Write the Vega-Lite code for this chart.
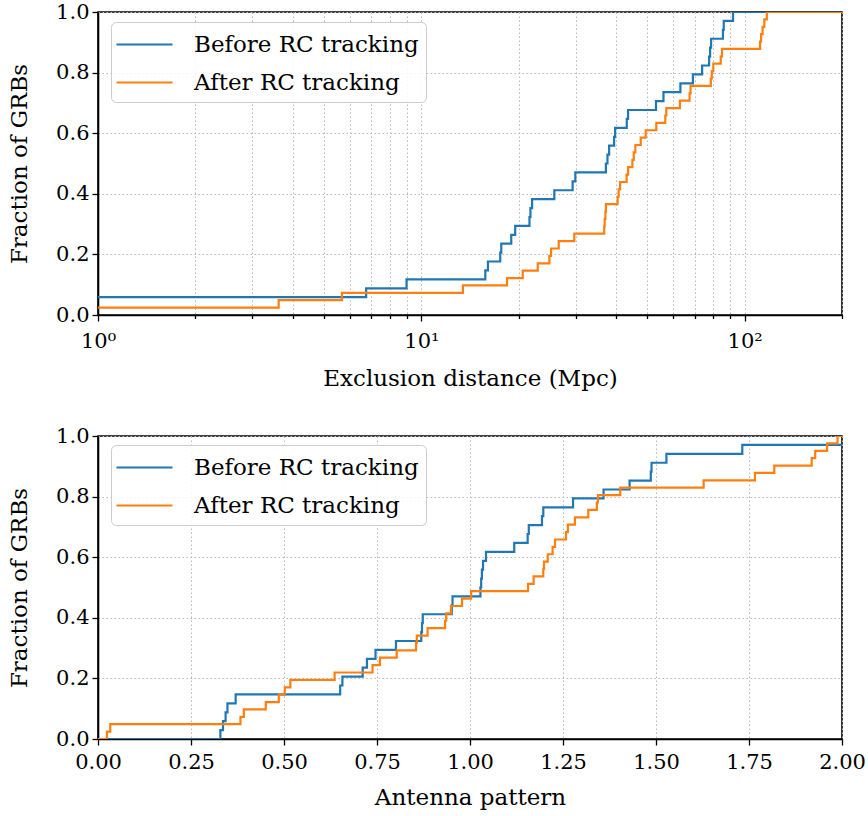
{
  "$schema": "https://vega.github.io/schema/vega-lite/v6.json",
  "background": "white",
  "padding": {"left": 7, "top": 0, "right": 20, "bottom": 5},
  "datasets": {
    "top": [
      {"series": "Before RC tracking", "x": 1, "y": 0.0588},
      {"series": "Before RC tracking", "x": 6.75, "y": 0.0882},
      {"series": "Before RC tracking", "x": 9.0, "y": 0.1176},
      {"series": "Before RC tracking", "x": 15.77, "y": 0.1471},
      {"series": "Before RC tracking", "x": 16.07, "y": 0.1765},
      {"series": "Before RC tracking", "x": 17.54, "y": 0.2059},
      {"series": "Before RC tracking", "x": 17.67, "y": 0.2353},
      {"series": "Before RC tracking", "x": 18.97, "y": 0.2647},
      {"series": "Before RC tracking", "x": 19.51, "y": 0.2941},
      {"series": "Before RC tracking", "x": 21.6, "y": 0.3235},
      {"series": "Before RC tracking", "x": 21.75, "y": 0.3529},
      {"series": "Before RC tracking", "x": 22.01, "y": 0.3824},
      {"series": "Before RC tracking", "x": 25.78, "y": 0.4118},
      {"series": "Before RC tracking", "x": 29.37, "y": 0.4412},
      {"series": "Before RC tracking", "x": 29.94, "y": 0.4706},
      {"series": "Before RC tracking", "x": 37.22, "y": 0.5},
      {"series": "Before RC tracking", "x": 37.64, "y": 0.5294},
      {"series": "Before RC tracking", "x": 38.09, "y": 0.5588},
      {"series": "Before RC tracking", "x": 39.47, "y": 0.5882},
      {"series": "Before RC tracking", "x": 39.75, "y": 0.6176},
      {"series": "Before RC tracking", "x": 43.19, "y": 0.6471},
      {"series": "Before RC tracking", "x": 43.59, "y": 0.6765},
      {"series": "Before RC tracking", "x": 53.18, "y": 0.7059},
      {"series": "Before RC tracking", "x": 56.09, "y": 0.7353},
      {"series": "Before RC tracking", "x": 63.27, "y": 0.7647},
      {"series": "Before RC tracking", "x": 69.16, "y": 0.7941},
      {"series": "Before RC tracking", "x": 73.86, "y": 0.8235},
      {"series": "Before RC tracking", "x": 77.62, "y": 0.8529},
      {"series": "Before RC tracking", "x": 78.18, "y": 0.8824},
      {"series": "Before RC tracking", "x": 78.73, "y": 0.9118},
      {"series": "Before RC tracking", "x": 85.66, "y": 0.9412},
      {"series": "Before RC tracking", "x": 86.15, "y": 0.9706},
      {"series": "Before RC tracking", "x": 92.04, "y": 1.0},
      {"series": "Before RC tracking", "x": 200, "y": 1.0},
      {"series": "After RC tracking", "x": 1, "y": 0.0244},
      {"series": "After RC tracking", "x": 3.62, "y": 0.0488},
      {"series": "After RC tracking", "x": 5.68, "y": 0.0732},
      {"series": "After RC tracking", "x": 13.45, "y": 0.0976},
      {"series": "After RC tracking", "x": 18.41, "y": 0.122},
      {"series": "After RC tracking", "x": 20.59, "y": 0.1463},
      {"series": "After RC tracking", "x": 22.91, "y": 0.1707},
      {"series": "After RC tracking", "x": 24.89, "y": 0.1951},
      {"series": "After RC tracking", "x": 25.19, "y": 0.2195},
      {"series": "After RC tracking", "x": 26.6, "y": 0.2439},
      {"series": "After RC tracking", "x": 29.72, "y": 0.2683},
      {"series": "After RC tracking", "x": 36.78, "y": 0.2927},
      {"series": "After RC tracking", "x": 36.9, "y": 0.3171},
      {"series": "After RC tracking", "x": 37.09, "y": 0.3415},
      {"series": "After RC tracking", "x": 37.22, "y": 0.3659},
      {"series": "After RC tracking", "x": 40.46, "y": 0.3902},
      {"series": "After RC tracking", "x": 40.75, "y": 0.4146},
      {"series": "After RC tracking", "x": 41.19, "y": 0.439},
      {"series": "After RC tracking", "x": 43.14, "y": 0.4634},
      {"series": "After RC tracking", "x": 43.59, "y": 0.4878},
      {"series": "After RC tracking", "x": 44.95, "y": 0.5122},
      {"series": "After RC tracking", "x": 45.39, "y": 0.5366},
      {"series": "After RC tracking", "x": 45.91, "y": 0.561},
      {"series": "After RC tracking", "x": 47.7, "y": 0.5854},
      {"series": "After RC tracking", "x": 49.43, "y": 0.6098},
      {"series": "After RC tracking", "x": 53.3, "y": 0.6341},
      {"series": "After RC tracking", "x": 56.82, "y": 0.6585},
      {"series": "After RC tracking", "x": 57.23, "y": 0.6829},
      {"series": "After RC tracking", "x": 63.05, "y": 0.7073},
      {"series": "After RC tracking", "x": 67.54, "y": 0.7317},
      {"series": "After RC tracking", "x": 68.03, "y": 0.7561},
      {"series": "After RC tracking", "x": 78.57, "y": 0.7805},
      {"series": "After RC tracking", "x": 79.13, "y": 0.8049},
      {"series": "After RC tracking", "x": 79.97, "y": 0.8293},
      {"series": "After RC tracking", "x": 84.33, "y": 0.8537},
      {"series": "After RC tracking", "x": 85.11, "y": 0.878},
      {"series": "After RC tracking", "x": 111.6, "y": 0.9024},
      {"series": "After RC tracking", "x": 112.4, "y": 0.9268},
      {"series": "After RC tracking", "x": 113.6, "y": 0.9512},
      {"series": "After RC tracking", "x": 115.0, "y": 0.9756},
      {"series": "After RC tracking", "x": 117.1, "y": 1.0},
      {"series": "After RC tracking", "x": 200, "y": 1.0}
    ],
    "bottom": [
      {"series": "Before RC tracking", "x": 0, "y": 0},
      {"series": "Before RC tracking", "x": 0.329, "y": 0.0294},
      {"series": "Before RC tracking", "x": 0.336, "y": 0.0588},
      {"series": "Before RC tracking", "x": 0.343, "y": 0.0882},
      {"series": "Before RC tracking", "x": 0.348, "y": 0.1176},
      {"series": "Before RC tracking", "x": 0.37, "y": 0.1471},
      {"series": "Before RC tracking", "x": 0.651, "y": 0.1765},
      {"series": "Before RC tracking", "x": 0.657, "y": 0.2059},
      {"series": "Before RC tracking", "x": 0.7115, "y": 0.2353},
      {"series": "Before RC tracking", "x": 0.723, "y": 0.2647},
      {"series": "Before RC tracking", "x": 0.746, "y": 0.2941},
      {"series": "Before RC tracking", "x": 0.801, "y": 0.3235},
      {"series": "Before RC tracking", "x": 0.869, "y": 0.3529},
      {"series": "Before RC tracking", "x": 0.871, "y": 0.3824},
      {"series": "Before RC tracking", "x": 0.873, "y": 0.4118},
      {"series": "Before RC tracking", "x": 0.951, "y": 0.4412},
      {"series": "Before RC tracking", "x": 0.953, "y": 0.4706},
      {"series": "Before RC tracking", "x": 1.028, "y": 0.5},
      {"series": "Before RC tracking", "x": 1.03, "y": 0.5294},
      {"series": "Before RC tracking", "x": 1.032, "y": 0.5588},
      {"series": "Before RC tracking", "x": 1.035, "y": 0.5882},
      {"series": "Before RC tracking", "x": 1.043, "y": 0.6176},
      {"series": "Before RC tracking", "x": 1.119, "y": 0.6471},
      {"series": "Before RC tracking", "x": 1.155, "y": 0.6765},
      {"series": "Before RC tracking", "x": 1.158, "y": 0.7059},
      {"series": "Before RC tracking", "x": 1.1935, "y": 0.7353},
      {"series": "Before RC tracking", "x": 1.197, "y": 0.7647},
      {"series": "Before RC tracking", "x": 1.277, "y": 0.7941},
      {"series": "Before RC tracking", "x": 1.359, "y": 0.8235},
      {"series": "Before RC tracking", "x": 1.429, "y": 0.8529},
      {"series": "Before RC tracking", "x": 1.486, "y": 0.8824},
      {"series": "Before RC tracking", "x": 1.488, "y": 0.9118},
      {"series": "Before RC tracking", "x": 1.528, "y": 0.9412},
      {"series": "Before RC tracking", "x": 1.732, "y": 0.9706},
      {"series": "Before RC tracking", "x": 2.0, "y": 0.9706},
      {"series": "After RC tracking", "x": 0, "y": 0},
      {"series": "After RC tracking", "x": 0.024, "y": 0.0244},
      {"series": "After RC tracking", "x": 0.033, "y": 0.0488},
      {"series": "After RC tracking", "x": 0.383, "y": 0.0732},
      {"series": "After RC tracking", "x": 0.392, "y": 0.0976},
      {"series": "After RC tracking", "x": 0.451, "y": 0.122},
      {"series": "After RC tracking", "x": 0.486, "y": 0.1463},
      {"series": "After RC tracking", "x": 0.502, "y": 0.1707},
      {"series": "After RC tracking", "x": 0.517, "y": 0.1951},
      {"series": "After RC tracking", "x": 0.636, "y": 0.2195},
      {"series": "After RC tracking", "x": 0.738, "y": 0.2439},
      {"series": "After RC tracking", "x": 0.758, "y": 0.2683},
      {"series": "After RC tracking", "x": 0.803, "y": 0.2927},
      {"series": "After RC tracking", "x": 0.855, "y": 0.3171},
      {"series": "After RC tracking", "x": 0.857, "y": 0.3415},
      {"series": "After RC tracking", "x": 0.886, "y": 0.3659},
      {"series": "After RC tracking", "x": 0.933, "y": 0.3902},
      {"series": "After RC tracking", "x": 0.936, "y": 0.4146},
      {"series": "After RC tracking", "x": 0.949, "y": 0.439},
      {"series": "After RC tracking", "x": 0.9785, "y": 0.4634},
      {"series": "After RC tracking", "x": 1.003, "y": 0.4878},
      {"series": "After RC tracking", "x": 1.156, "y": 0.5122},
      {"series": "After RC tracking", "x": 1.171, "y": 0.5366},
      {"series": "After RC tracking", "x": 1.197, "y": 0.561},
      {"series": "After RC tracking", "x": 1.199, "y": 0.5854},
      {"series": "After RC tracking", "x": 1.209, "y": 0.6098},
      {"series": "After RC tracking", "x": 1.222, "y": 0.6341},
      {"series": "After RC tracking", "x": 1.2285, "y": 0.6585},
      {"series": "After RC tracking", "x": 1.258, "y": 0.6829},
      {"series": "After RC tracking", "x": 1.263, "y": 0.7073},
      {"series": "After RC tracking", "x": 1.282, "y": 0.7317},
      {"series": "After RC tracking", "x": 1.318, "y": 0.7561},
      {"series": "After RC tracking", "x": 1.341, "y": 0.7805},
      {"series": "After RC tracking", "x": 1.344, "y": 0.8049},
      {"series": "After RC tracking", "x": 1.404, "y": 0.8293},
      {"series": "After RC tracking", "x": 1.628, "y": 0.8537},
      {"series": "After RC tracking", "x": 1.766, "y": 0.878},
      {"series": "After RC tracking", "x": 1.818, "y": 0.9024},
      {"series": "After RC tracking", "x": 1.9185, "y": 0.9268},
      {"series": "After RC tracking", "x": 1.928, "y": 0.9512},
      {"series": "After RC tracking", "x": 1.96, "y": 0.9756},
      {"series": "After RC tracking", "x": 1.988, "y": 1.0},
      {"series": "After RC tracking", "x": 2.0, "y": 1.0}
    ]
  },
  "spacing": 121,
  "bounds": "flush",
  "resolve": {
    "scale": {"x": "independent", "y": "independent", "color": "independent"},
    "legend": {"color": "independent"}
  },
  "vconcat": [
    {
      "width": 744,
      "height": 303,
      "data": {"name": "top"},
      "encoding": {
        "x": {
          "field": "x", "type": "quantitative",
          "scale": {"type": "log", "domain": [1, 200], "nice": false},
          "axis": {
            "title": "Exclusion distance (Mpc)",
            "values": [1, 2, 3, 4, 5, 6, 7, 8, 9, 10, 20, 30, 40, 50, 60, 70, 80, 90, 100, 200],
            "labelExpr": "datum.value == 1 ? '10⁰' : datum.value == 10 ? '10¹' : datum.value == 100 ? '10²' : ''",
            "labelOverlap": false,
            "labelPadding": 9,
            "titlePadding": 16,
            "tickSize": {"condition": {"test": "datum.value == 1 || datum.value == 10 || datum.value == 100", "value": 6}, "value": 3.5}
          }
        },
        "y": {
          "field": "y", "type": "quantitative",
          "scale": {"domain": [0, 1], "nice": false},
          "axis": {"title": "Fraction of GRBs", "values": [0, 0.2, 0.4, 0.6, 0.8, 1.0], "format": ".1f", "titlePadding": 24}
        },
        "color": {
          "field": "series", "type": "nominal",
          "scale": {"domain": ["Before RC tracking", "After RC tracking"], "range": ["#1f77b4", "#ff7f0e"]},
          "legend": {"title": null, "orient": "none", "legendX": 13, "legendY": 10}
        }
      },
      "layer": [
        {"transform": [{"filter": "datum.series == 'Before RC tracking'"}], "mark": {"type": "line", "interpolate": "step-after", "strokeWidth": 2.2, "clip": true}},
        {"transform": [{"filter": "datum.series == 'After RC tracking'"}], "mark": {"type": "line", "interpolate": "step-after", "strokeWidth": 2.2, "clip": true}}
      ]
    },
    {
      "width": 744,
      "height": 303,
      "data": {"name": "bottom"},
      "encoding": {
        "x": {
          "field": "x", "type": "quantitative",
          "scale": {"domain": [0, 2], "nice": false},
          "axis": {"title": "Antenna pattern", "values": [0, 0.25, 0.5, 0.75, 1.0, 1.25, 1.5, 1.75, 2.0], "format": ".2f", "labelPadding": 6, "titlePadding": 14}
        },
        "y": {
          "field": "y", "type": "quantitative",
          "scale": {"domain": [0, 1], "nice": false},
          "axis": {"title": "Fraction of GRBs", "values": [0, 0.2, 0.4, 0.6, 0.8, 1.0], "format": ".1f", "titlePadding": 24}
        },
        "color": {
          "field": "series", "type": "nominal",
          "scale": {"domain": ["Before RC tracking", "After RC tracking"], "range": ["#1f77b4", "#ff7f0e"]},
          "legend": {"title": null, "orient": "none", "legendX": 13, "legendY": 9}
        }
      },
      "layer": [
        {"transform": [{"filter": "datum.series == 'Before RC tracking'"}], "mark": {"type": "line", "interpolate": "step-after", "strokeWidth": 2.2, "clip": true}},
        {"transform": [{"filter": "datum.series == 'After RC tracking'"}], "mark": {"type": "line", "interpolate": "step-after", "strokeWidth": 2.2, "clip": true}}
      ]
    }
  ],
  "config": {
    "font": "DejaVu Serif",
    "view": {"stroke": "black", "strokeWidth": 1.6},
    "axis": {
      "labelFont": "DejaVu Serif", "labelFontSize": 21, "labelColor": "black", "labelFlush": false,
      "titleFont": "DejaVu Serif", "titleFontSize": 23, "titleFontWeight": "normal", "titleColor": "black",
      "domainColor": "black", "domainWidth": 1.6,
      "tickColor": "black", "tickWidth": 1.3, "tickSize": 6, "labelPadding": 3,
      "gridColor": "#b8b8b8", "gridDash": [1.5, 2.5], "gridWidth": 1
    },
    "legend": {
      "symbolType": "M-2,0L2,0", "symbolSize": 784, "symbolStrokeWidth": 2.2, "symbolOffset": 11,
      "labelFont": "DejaVu Serif", "labelFontSize": 23, "labelColor": "black", "labelOffset": 34,
      "padding": 7, "rowPadding": 10,
      "strokeColor": "#cccccc", "fillColor": "rgba(255,255,255,0.85)", "cornerRadius": 5, "labelLimit": 400
    }
  }
}
